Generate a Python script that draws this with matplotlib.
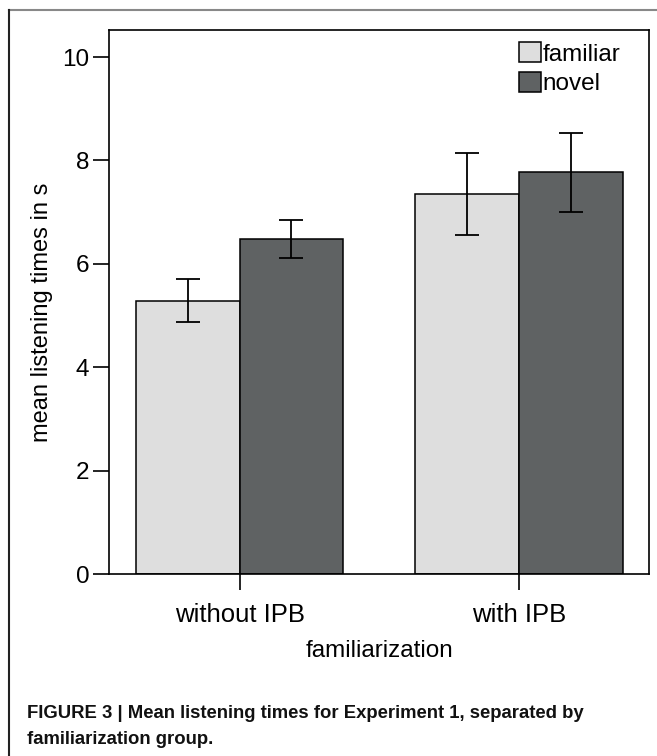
import matplotlib
matplotlib.use("Agg")
import matplotlib.pyplot as plt
from matplotlib.lines import Line2D
import numpy as np

groups = ["without IPB", "with IPB"]
series = ["familiar", "novel"]
means_familiar = [5.29, 7.35]
means_novel = [6.48, 7.77]
err_familiar_low = [4.87, 6.56]
err_familiar_high = [5.71, 8.14]
err_novel_low = [6.12, 7.00]
err_novel_high = [6.84, 8.53]
yticks = [0, 2, 4, 6, 8, 10]
colors = ["#dedede", "#5f6263"]
caption_lines = ["FIGURE 3 | Mean listening times for Experiment 1, separated by",
                 "familiarization group."]

plt.rcParams['font.family'] = ['Liberation Sans', 'DejaVu Sans']

fig = plt.figure(figsize=(6.57, 7.56), dpi=100)
ax = fig.add_axes([0.1664, 0.2407, 0.9883 - 0.1664, 0.9607 - 0.2407])

x = np.arange(len(groups))
w = 0.371
fs = 17.5

for i, (m, lo, hi, c, lab) in enumerate([
        (means_familiar, err_familiar_low, err_familiar_high, colors[0], series[0]),
        (means_novel, err_novel_low, err_novel_high, colors[1], series[1])]):
    pos = x + (i - 0.5) * w
    ax.bar(pos, m, width=w, color=c, edgecolor="black", linewidth=1.1, label=lab, zorder=2)
    m_arr = np.array(m)
    yerr = np.vstack([m_arr - np.array(lo), np.array(hi) - m_arr])
    ax.errorbar(pos, m_arr, yerr=yerr, fmt="none", ecolor="black", elinewidth=1.3,
                capsize=8.6, capthick=1.3, zorder=3)

ax.set_xlim(-0.466, 1.466)
ax.set_ylim(0, 10.53)
ax.set_yticks(yticks)
ax.set_yticklabels([str(t) for t in yticks])
ax.set_xticks(x)
ax.set_xticklabels(groups)
ax.tick_params(axis="both", direction="out", length=11.5, width=1.2, color="black")
ax.tick_params(axis="y", pad=3, labelsize=17.5)
ax.tick_params(axis="x", pad=9, labelsize=18.5)
for s in ax.spines.values():
    s.set_linewidth(1.2)
ax.set_ylabel("mean listening times in s", fontsize=17)
ax.yaxis.set_label_coords(-0.104, 0.48)
ax.set_xlabel("familiarization", fontsize=fs, labelpad=10)

ax.legend(loc="upper left", bbox_to_anchor=(0.758, 0.977), frameon=False, fontsize=fs,
          handlelength=0.9, handleheight=0.9, handletextpad=0.08, labelspacing=0.25,
          borderpad=0, borderaxespad=0)

# outer frame
fig.add_artist(Line2D([9 / 657, 1.0], [1 - 10 / 756, 1 - 10 / 756], transform=fig.transFigure,
                      color="#888888", linewidth=1.5))
fig.add_artist(Line2D([9 / 657, 9 / 657], [1 - 10 / 756, 0], transform=fig.transFigure,
                      color="#222222", linewidth=1.5))

for line, yc in zip(caption_lines, [713, 740]):
    fig.text(27 / 657, 1 - yc / 756, line, fontsize=13.3, fontweight="bold",
             ha="left", va="center", color="#111111")

fig.savefig("out.png", dpi=100)
